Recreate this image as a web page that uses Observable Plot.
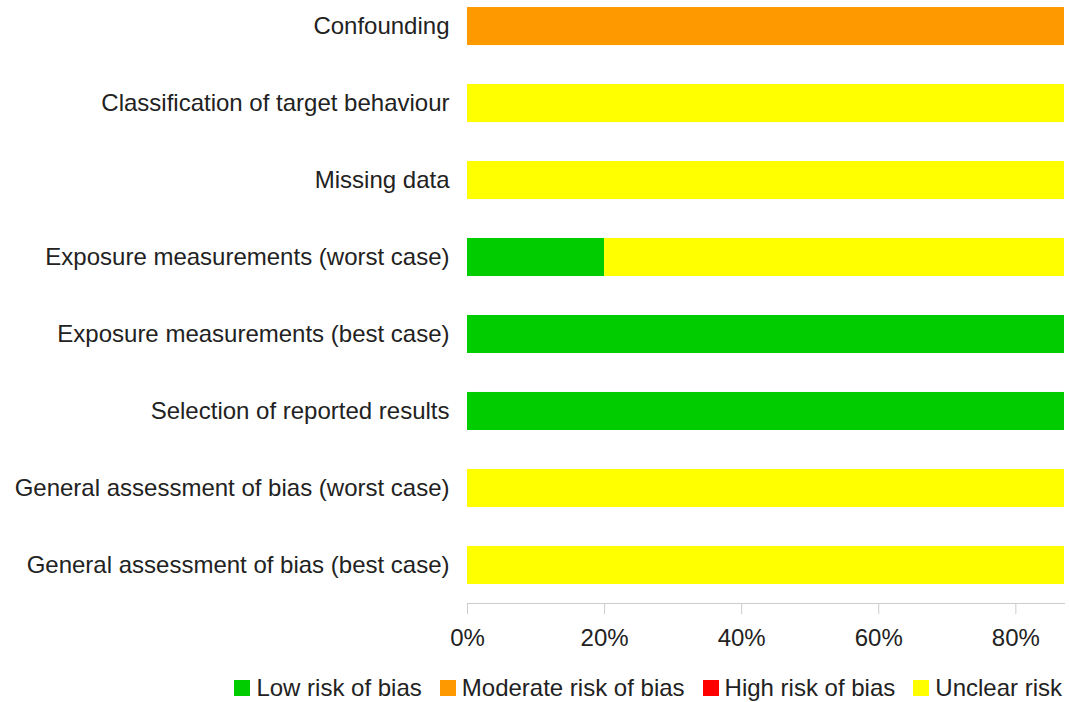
<!DOCTYPE html>
<html>
<head>
<meta charset="utf-8">
<script src="https://cdn.jsdelivr.net/npm/d3@7"></script>
<script src="https://cdn.jsdelivr.net/npm/@observablehq/plot@0.6"></script>
<style>
  html, body { margin: 0; padding: 0; background: #fff; }
  #wrap { width: 1069px; font-family: "Liberation Sans", Arial, sans-serif; }
  #legend { display: flex; justify-content: flex-end; align-items: center; height: 36px; padding-right: 7px; font-size: 24px; color: #222; }
  #legend .item { display: flex; align-items: center; margin-left: 18px; }
  #legend .sw { width: 16px; height: 16px; margin-right: 6px; }
</style>
</head>
<body>
<div id="wrap"></div>
<script>
const categories = [
  "Confounding",
  "Classification of target behaviour",
  "Missing data",
  "Exposure measurements (worst case)",
  "Exposure measurements (best case)",
  "Selection of reported results",
  "General assessment of bias (worst case)",
  "General assessment of bias (best case)"
];
const riskLevels = ["Low risk of bias", "Moderate risk of bias", "High risk of bias", "Unclear risk"];
const riskColors = ["#00CC00", "#FF9900", "#FF0000", "#FFFF00"];
const lowVals      = [0, 0, 0, 0.2, 1, 1, 0, 0];
const moderateVals = [1, 0, 0, 0, 0, 0, 0, 0];
const highVals     = [0, 0, 0, 0, 0, 0, 0, 0];
const unclearVals  = [0, 1, 1, 0.8, 0, 0, 1, 1];
const xTicks = [0, 0.2, 0.4, 0.6, 0.8];

const series = [lowVals, moderateVals, highVals, unclearVals];
const data = [];
categories.forEach((c, i) => {
  riskLevels.forEach((r, j) => {
    data.push({category: c, risk: r, value: series[j][i]});
  });
});

const chart = Plot.plot({
  width: 1069,
  height: 670,
  marginLeft: 467,
  marginRight: 5,
  marginTop: 0,
  marginBottom: 67,
  style: {fontSize: "24px", fontFamily: "'Liberation Sans', Arial, sans-serif", color: "#222", background: "#fff"},
  x: {domain: [0, 0.871], ticks: xTicks, tickFormat: d3.format(".0%")},
  y: {type: "band", domain: categories, range: [-12, 603], paddingInner: 0.506, paddingOuter: 0.247, round: false},
  color: {domain: riskLevels, range: riskColors},
  marks: [
    Plot.barX(data, {x: "value", y: "category", fill: "risk", clip: true, order: riskLevels}),
    Plot.frame({anchor: "bottom", stroke: "#ccc"}),
    Plot.axisX({ticks: xTicks, tickFormat: d3.format(".0%"), tickSize: 11, tickPadding: 14, stroke: "#ccc", strokeOpacity: 1, fill: "#222", fontSize: 24, label: null}),
    Plot.axisY({tickSize: 0, tickPadding: 18, fill: "#222", fontSize: 24, label: null})
  ]
});

const wrap = document.getElementById("wrap");
wrap.appendChild(chart);
const legend = document.createElement("div");
legend.id = "legend";
riskLevels.forEach((r, j) => {
  const item = document.createElement("div");
  item.className = "item";
  const sw = document.createElement("div");
  sw.className = "sw";
  sw.style.background = riskColors[j];
  const t = document.createElement("span");
  t.textContent = r;
  item.appendChild(sw);
  item.appendChild(t);
  legend.appendChild(item);
});
wrap.appendChild(legend);
</script>
</body>
</html>
